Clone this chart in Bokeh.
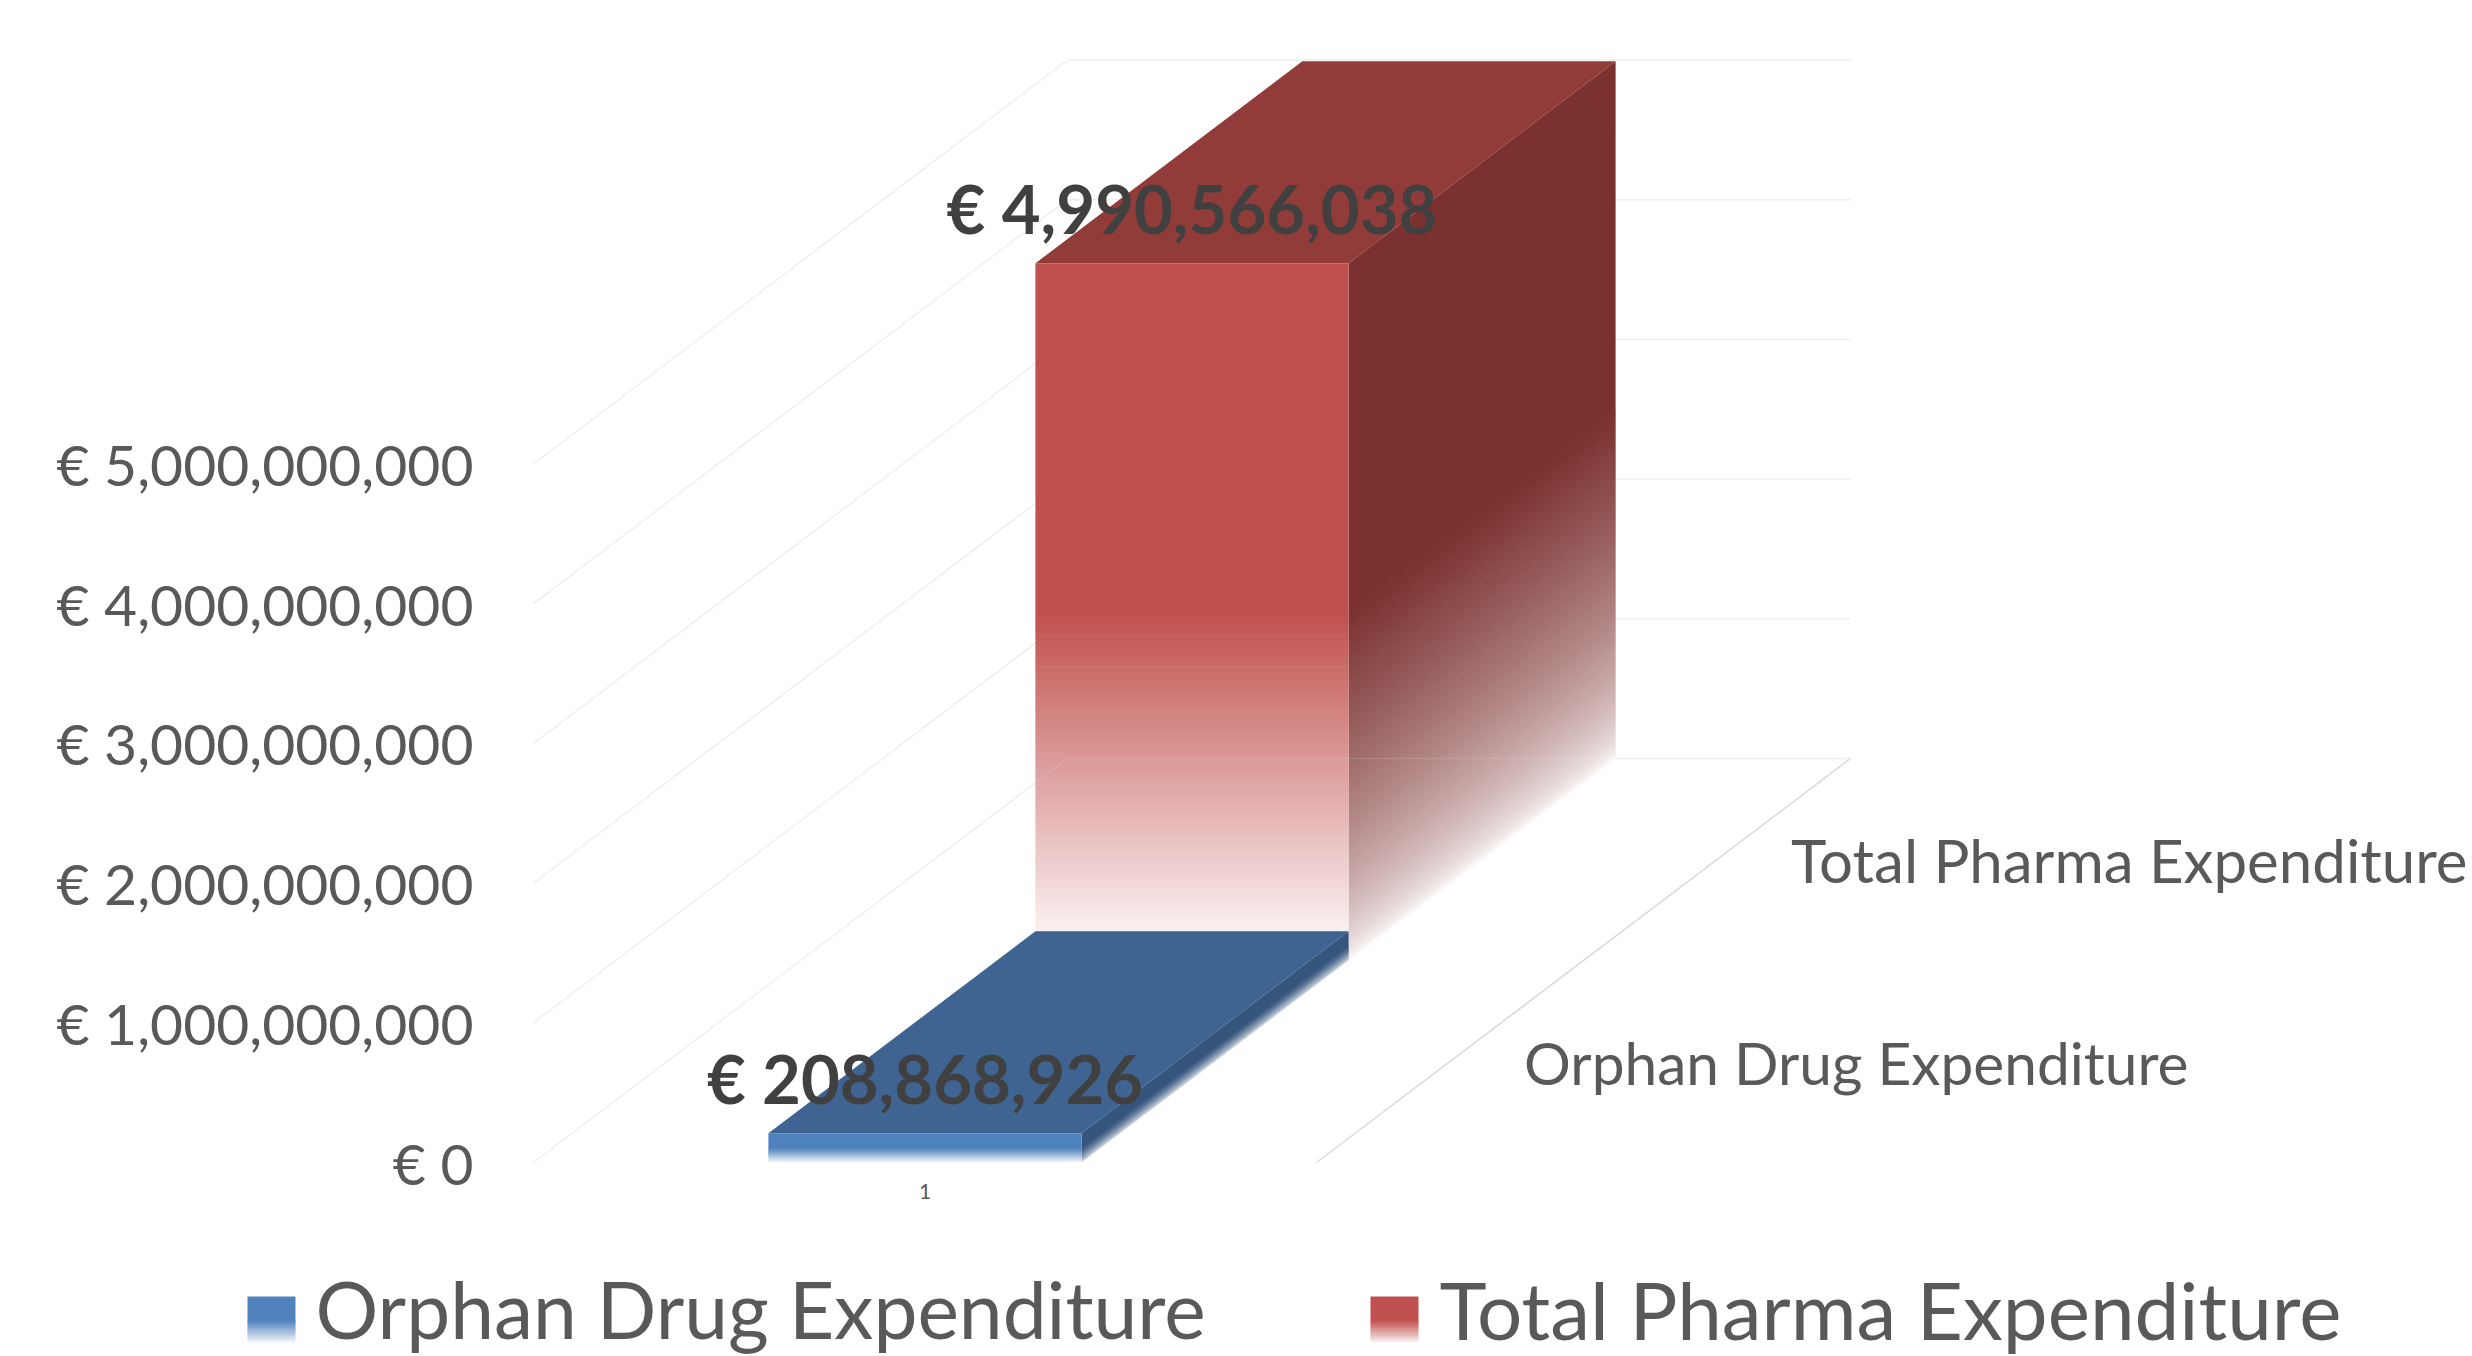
from bokeh.plotting import figure
from bokeh.layouts import column
from bokeh.models import Range1d, FixedTicker
from bokeh.core.properties import value as V
from bokeh.embed import file_html
from bokeh.resources import INLINE

# ---- data ----
categories = [1]
series_names = ["Orphan Drug Expenditure", "Total Pharma Expenditure"]
series_values = [208868926, 4990566038]
value_labels = ["€ 208,868,926", "€ 4,990,566,038"]
tick_values = [0, 1000000000, 2000000000, 3000000000, 4000000000, 5000000000]
tick_labels = ["€ 0", "€ 1,000,000,000", "€ 2,000,000,000", "€ 3,000,000,000",
               "€ 4,000,000,000", "€ 5,000,000,000"]
front_colors = ["#4F81BD", "#C0504D"]
top_colors = ["#3F6491", "#923C3A"]
side_colors = ["#35557D", "#7A312F"]

# ---- layout constants ----
FONT = "Lato"
W, H_MAIN, H_LEG = 2472, 1248, 108
PX_X = 783.0           # pixels per category unit
PX_V = 139.7 / 1e9     # pixels per euro
DEPTH_X = 267.0 / PX_X  # shift of one series slot, category units
DEPTH_V = 202.0 / PX_V  # lift of one series slot, euros
BAR_W = 0.4
L_B, B_B = 530, 84
x0 = 0.5 - 3 / PX_X
y0 = -2 / PX_V
FRAME_W, FRAME_H = W - L_B, H_MAIN - B_B


def proj(x, z, v):
    return x + z * DEPTH_X, v + z * DEPTH_V


def blend(hex_color, a):
    c = [int(hex_color[i:i + 2], 16) for i in (1, 3, 5)]
    return "#%02x%02x%02x" % tuple(round(255 + (k - 255) * a) for k in c)


p = figure(width=W, height=H_MAIN, output_backend="svg", toolbar_location=None,
           x_range=Range1d(x0, x0 + FRAME_W / PX_X),
           y_range=Range1d(y0, y0 + FRAME_H / PX_V),
           min_border_left=L_B, min_border_bottom=B_B, min_border_top=0, min_border_right=0,
           outline_line_color=None, background_fill_color="white", frame_align=False)
p.grid.visible = False

p.yaxis.ticker = FixedTicker(ticks=tick_values)
p.yaxis.major_label_overrides = dict(zip(tick_values, tick_labels))
p.yaxis.axis_line_color = None
p.yaxis.major_tick_line_color = None
p.yaxis.minor_tick_line_color = None
p.yaxis.major_tick_in = 0
p.yaxis.major_tick_out = 0
p.yaxis.major_label_standoff = 57
p.yaxis.major_label_text_font = FONT
p.yaxis.major_label_text_font_size = "57px"
p.yaxis.major_label_text_color = "#595959"

p.xaxis.ticker = FixedTicker(ticks=categories)
p.xaxis.major_label_overrides = {c: str(c) for c in categories}
p.xaxis.axis_line_color = None
p.xaxis.major_tick_line_color = None
p.xaxis.minor_tick_line_color = None
p.xaxis.major_tick_in = 0
p.xaxis.major_tick_out = 0
p.xaxis.major_label_standoff = 19
p.xaxis.major_label_text_font = FONT
p.xaxis.major_label_text_font_size = "21px"
p.xaxis.major_label_text_color = "#595959"

# ---- walls and floor ----
n_z = len(series_values)
xl, xr = categories[0] - 0.5, categories[0] + 0.5
GRID = "#EFEFEF"
FLOOR = "#D9D9D9"
for t in tick_values:
    a = proj(xl, 0, t)
    b = proj(xl, n_z, t)
    c = proj(xr, n_z, t)
    p.line([a[0], b[0], c[0]], [a[1], b[1], c[1]], line_color=GRID, line_width=1.5)
a, b = proj(xr, 0, 0), proj(xr, n_z, 0)
p.line([a[0], b[0]], [a[1], b[1]], line_color=FLOOR, line_width=1.5)


# ---- gradient bars ----
def draw_bar(i, steps):
    left = categories[0] - BAR_W / 2
    right = categories[0] + BAR_W / 2
    h = series_values[i]
    z0, z1 = i, i + 1
    eps = 0.7 / PX_V

    # top face
    q = [proj(left, z0, h), proj(left, z1, h), proj(right, z1, h), proj(right, z0, h)]
    p.patch([k[0] for k in q], [k[1] for k in q], fill_color=top_colors[i], line_color=None)

    ss = [k / steps for k in range(steps + 1)]

    # side face, then front face: opaque tint steps, painted upwards with overlap
    for kind in ("side", "front"):
        xs, ys, cols = [], [], []
        base = side_colors[i] if kind == "side" else front_colors[i]
        bands = [(s0 * h * 0.5, s1 * h * 0.5, (s0 + s1) / 2) for s0, s1 in zip(ss[:-1], ss[1:])]
        bands.append((h * 0.5, h, 1.0))
        for v0, v1, al in bands:
            lo = max(0, v0 - eps)
            if kind == "side":
                q = [proj(right, z0, lo), proj(right, z0, v1), proj(right, z1, v1), proj(right, z1, lo)]
                al = al ** 0.6
            else:
                q = [proj(left, z0, lo), proj(left, z0, v1), proj(right, z0, v1), proj(right, z0, lo)]
            xs.append([k[0] for k in q])
            ys.append([k[1] for k in q])
            cols.append(blend(base, al))
        p.patches(xs, ys, fill_color=cols, line_color=None)


draw_bar(1, 90)

# floor lines showing through the faded part of the back bar
a, b, c = proj(xl, 1.85, 0), proj(xl, n_z, 0), proj(xr, n_z, 0)
p.line([a[0], b[0], c[0]], [a[1], b[1], c[1]], line_color="#FFFFFF", line_alpha=0.12, line_width=1.5)

draw_bar(0, 12)

# ---- data labels ----
for i, (v, lab) in enumerate(zip(series_values, value_labels)):
    x, y = proj(categories[0], i, v)
    p.text([x], [y], text=[lab], text_font=V(FONT), text_font_style="bold",
           text_font_size="67px", text_color="#404040", text_align="center",
           text_baseline="alphabetic", y_offset=-55)

# ---- depth axis labels ----
DEPTH_FONT_PX = ["58.6px", "60px"]
for i, name in enumerate(series_names):
    x, y = proj(xr, i + 0.5, 0)
    p.text([x], [y], text=[name], text_font=V(FONT), text_font_size=DEPTH_FONT_PX[i],
           text_color="#595959", text_align="left", text_baseline="middle", x_offset=74)

# ---- legend ----
leg = figure(width=W, height=H_LEG, output_backend="svg", toolbar_location=None,
             x_range=Range1d(0, W), y_range=Range1d(0, H_LEG),
             min_border=0, outline_line_color=None, x_axis_location=None, y_axis_location=None,
             frame_align=False)
leg.grid.visible = False
LEG_SW_X = [247, 1370]
LEG_TXT_X = [315, 1439]
LEG_FONT_PX = ["78.5px", "80px"]
SW_W, SW_B, SW_H = 48, 13, 47
for i, name in enumerate(series_names):
    sx = LEG_SW_X[i]
    bands = [(SW_B + SW_H * k / 24, SW_B + SW_H * (k + 1) / 24, (k + 0.5) / 12) for k in range(12)]
    bands.append((SW_B + SW_H / 2, SW_B + SW_H, 1.0))
    leg.quad(left=[sx] * len(bands), right=[sx + SW_W] * len(bands),
             bottom=[max(b[0] - 0.5, SW_B) for b in bands], top=[b[1] for b in bands],
             fill_color=[blend(front_colors[i], b[2]) for b in bands], line_color=None)
    leg.text([LEG_TXT_X[i]], [48], text=[name], text_font=V(FONT), text_font_size=LEG_FONT_PX[i],
             text_color="#595959", text_align="left", text_baseline="alphabetic")

layout = column(p, leg, spacing=0)
open("out.html", "w").write(file_html(layout, INLINE))
